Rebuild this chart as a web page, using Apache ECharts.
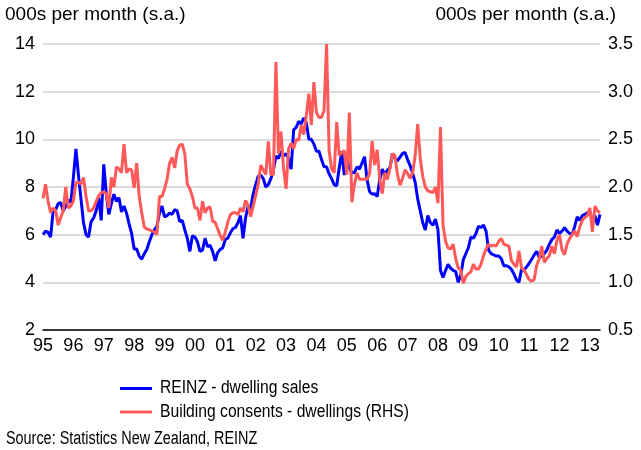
<!DOCTYPE html>
<html>
<head>
<meta charset="utf-8">
<script src="https://cdn.jsdelivr.net/npm/echarts@6/dist/echarts.min.js"></script>
<style>
  html, body { margin: 0; padding: 0; background: #fff; }
  #chart { width: 641px; height: 450px; }
</style>
</head>
<body>
<div id="chart"></div>
<script>
// Monthly, Jan 1995 to May 2013
const startYear = 1995;
const monthCount = 221;

// REINZ dwelling sales, 000s per month (s.a.), left axis
const dwellingSales = [
  6.0, 6.15, 6.1, 5.9, 7.0, 7.05, 7.3, 7.35, 7.0, 7.2, 7.45, 7.35,
  8.4, 9.6, 8.5, 7.5, 6.5, 6.0, 5.9, 6.55, 6.7, 7.0, 7.55, 6.6,
  8.95, 7.7, 6.85, 7.3, 7.7, 7.4, 7.55, 6.95, 7.2, 6.9, 6.45, 6.05,
  5.4, 5.4, 5.1, 4.97, 5.2, 5.38, 5.7, 6.0, 6.2, 6.35, 6.9, 7.2,
  6.75, 6.8, 6.9, 6.85, 7.05, 7.0, 6.55, 6.6, 6.2, 5.85, 5.3, 5.95,
  5.9, 5.7, 5.3, 5.35, 5.85, 5.5, 5.55, 5.3, 4.9, 5.25, 5.38, 5.45,
  5.8, 5.85, 6.08, 6.25, 6.3, 6.5, 6.8, 5.85, 6.7, 7.2, 7.1, 7.7,
  8.1, 8.45, 8.5, 8.35, 8.0, 8.1, 8.35, 8.7, 9.3, 9.2, 9.5, 9.3,
  9.4, 9.2, 8.75, 10.4, 10.5, 10.75, 10.65, 10.9, 10.7, 10.0, 10.0, 9.8,
  9.5, 9.5, 9.15, 8.85, 8.85, 8.55, 8.35, 8.1, 8.05, 8.8, 9.5, 8.5,
  9.2, 8.8, 8.6, 8.6, 8.85, 8.75, 9.0, 9.27, 8.3, 7.8, 7.7, 7.72,
  7.6, 8.3, 8.75, 8.5, 8.7, 8.8, 9.4, 9.2, 9.1, 9.25, 9.4, 9.45,
  9.15, 8.9, 8.57, 8.2, 7.5, 7.0, 6.5, 6.2, 6.8, 6.5, 6.4, 6.65,
  6.2, 4.5, 4.2, 4.5, 4.75, 4.6, 4.5, 4.45, 4.0, 4.3, 4.95, 5.2,
  5.45, 5.9, 5.85, 6.05, 6.35, 6.3, 6.4, 6.15, 5.35, 5.2, 5.15, 5.1,
  5.1, 5.0, 4.7, 4.7, 4.65, 4.55, 4.35, 4.1, 4.0, 4.55, 4.52, 4.65,
  4.8, 4.97, 5.15, 5.3, 5.05, 5.1, 5.2, 5.35, 5.6, 5.8, 5.9, 6.2,
  6.05, 6.15, 6.29, 6.15, 6.05, 6.0, 6.35, 6.75, 6.6, 6.8, 6.85, 6.92,
  6.95, 6.65, 6.8, 6.4, 6.85
];

// Building consents for dwellings, 000s per month (s.a.), right axis
const buildingConsents = [
  1.88, 2.03, 1.85, 1.73, 1.78, 1.75, 1.6, 1.68, 1.75, 2.0, 1.78, 1.8,
  1.85, 2.05, 2.05, 2.03, 2.1, 1.9, 1.75, 1.75, 1.78, 1.85, 1.91, 1.94,
  1.95, 1.93, 1.78, 2.1, 2.0, 2.21, 2.19, 2.15, 2.45, 2.15, 2.19, 2.18,
  1.99, 2.25, 1.9, 1.73, 1.58, 1.56, 1.55, 1.54, 1.53, 1.5, 1.9, 1.9,
  1.98, 2.08, 2.25, 2.31, 2.2, 2.38, 2.44, 2.45, 2.35, 2.03, 1.98, 1.9,
  1.78, 1.78, 1.65, 1.85, 1.73, 1.78, 1.79, 1.64, 1.63, 1.56, 1.49, 1.44,
  1.53, 1.63, 1.71, 1.73, 1.73, 1.71, 1.78, 1.74, 1.86, 1.81, 1.69, 1.8,
  1.91, 2.03, 2.23, 2.18, 2.13, 2.48, 2.13, 2.13, 3.31, 2.35, 2.58, 2.2,
  1.98, 2.4, 2.46, 2.4, 2.5, 2.49, 2.65, 2.55, 2.75, 2.98, 2.65, 3.1,
  2.78, 2.73, 2.73, 2.8, 3.5, 2.38, 2.19, 2.15, 2.68, 2.33, 2.36, 2.38,
  2.13, 2.78, 1.84, 2.03, 2.15, 2.08, 2.08, 2.08, 2.08, 2.14, 2.48, 2.23,
  2.39, 2.08, 1.93, 2.15, 2.08, 2.19, 2.35, 2.33, 2.13, 2.02, 2.09, 2.18,
  2.14, 2.09, 2.15, 2.33, 2.66, 2.3, 2.11, 2.0, 1.96, 1.95, 1.94, 2.0,
  1.83, 2.63, 1.6, 1.43, 1.36, 1.35, 1.4, 1.25, 1.15, 1.13, 0.99, 1.06,
  1.09, 1.11, 1.19, 1.14, 1.14, 1.19, 1.28, 1.35, 1.4, 1.38, 1.39, 1.38,
  1.43, 1.46, 1.4, 1.39, 1.38, 1.23, 1.19, 1.16, 1.33, 1.15, 1.13, 1.08,
  1.03, 1.01, 1.03, 1.18, 1.25, 1.38, 1.21, 1.25, 1.28, 1.38, 1.3, 1.44,
  1.5, 1.34, 1.29, 1.4, 1.46, 1.5, 1.54, 1.48, 1.58, 1.65, 1.68, 1.7,
  1.78, 1.53, 1.8, 1.75, 1.73
];

const leftTicks = [2, 4, 6, 8, 10, 12, 14];
const rightTicks = [0.5, 1.0, 1.5, 2.0, 2.5, 3.0, 3.5];
const unitLabel = '000s per month (s.a.)';
const seriesNames = ['REINZ - dwelling sales', 'Building consents - dwellings (RHS)'];
const seriesColors = ['#0000ff', '#ff5a5a'];
const sourceNote = 'Source: Statistics New Zealand, REINZ';

const months = [];
for (let i = 0; i < monthCount; i++) {
  const y = startYear + Math.floor(i / 12);
  const m = (i % 12) + 1;
  months.push(y + '-' + (m < 10 ? '0' + m : m));
}

const FONT = '"Liberation Sans", Arial, sans-serif';
const TXT = '#000';

// Key below the plot: a short line sample and a condensed label per series
const keyRows = [388.5, 412];
const keyGraphics = [];
seriesNames.forEach((name, i) => {
  keyGraphics.push({
    type: 'line',
    shape: { x1: 120, y1: keyRows[i], x2: 152, y2: keyRows[i] },
    style: { stroke: seriesColors[i], lineWidth: 3 }
  });
  keyGraphics.push({
    type: 'text',
    x: 160,
    y: keyRows[i],
    scaleX: 0.87,
    style: { text: name, font: '18px ' + FONT, fill: TXT, textVerticalAlign: 'middle' }
  });
});

const chart = echarts.init(document.getElementById('chart'), null, { renderer: 'canvas' });
chart.setOption({
  animation: false,
  backgroundColor: '#fff',
  textStyle: { fontFamily: FONT, color: TXT },
  grid: { left: 43, right: 41, top: 44, bottom: 120, containLabel: false },
  graphic: [
    { type: 'text', x: 5, y: 15, style: { text: unitLabel, font: '19px ' + FONT, fill: TXT, textVerticalAlign: 'middle' } },
    { type: 'text', x: 616, y: 15, style: { text: unitLabel, font: '19px ' + FONT, fill: TXT, textAlign: 'right', textVerticalAlign: 'middle' } },
    { type: 'text', x: 6, y: 439, scaleX: 0.8, style: { text: sourceNote, font: '18px ' + FONT, fill: TXT, textVerticalAlign: 'middle' } }
  ].concat(keyGraphics),
  xAxis: {
    type: 'category',
    data: months,
    boundaryGap: false,
    axisLine: { lineStyle: { color: '#000', width: 1.5 } },
    axisTick: { show: false },
    axisLabel: {
      fontFamily: FONT,
      fontSize: 18,
      color: TXT,
      margin: 7,
      interval: (idx) => idx % 12 === 0,
      formatter: (v) => v.slice(2, 4)
    },
    splitLine: { show: false }
  },
  yAxis: [
    {
      type: 'value',
      min: leftTicks[0],
      max: leftTicks[leftTicks.length - 1],
      interval: 2,
      axisLine: { show: false },
      axisTick: { show: false },
      axisLabel: { fontFamily: FONT, fontSize: 18, color: TXT, margin: 8 },
      splitLine: { lineStyle: { color: '#cfcfcf', width: 1.5 } }
    },
    {
      type: 'value',
      min: rightTicks[0],
      max: rightTicks[rightTicks.length - 1],
      interval: 0.5,
      position: 'right',
      axisLine: { show: false },
      axisTick: { show: false },
      axisLabel: { fontFamily: FONT, fontSize: 18, color: TXT, margin: 8, formatter: (v) => v.toFixed(1) },
      splitLine: { show: false }
    }
  ],
  series: [
    {
      name: seriesNames[0],
      type: 'line',
      yAxisIndex: 0,
      data: dwellingSales,
      showSymbol: false,
      lineStyle: { color: seriesColors[0], width: 3 },
      itemStyle: { color: seriesColors[0] }
    },
    {
      name: seriesNames[1],
      type: 'line',
      yAxisIndex: 1,
      data: buildingConsents,
      showSymbol: false,
      lineStyle: { color: seriesColors[1], width: 3 },
      itemStyle: { color: seriesColors[1] }
    }
  ]
});
</script>
</body>
</html>
